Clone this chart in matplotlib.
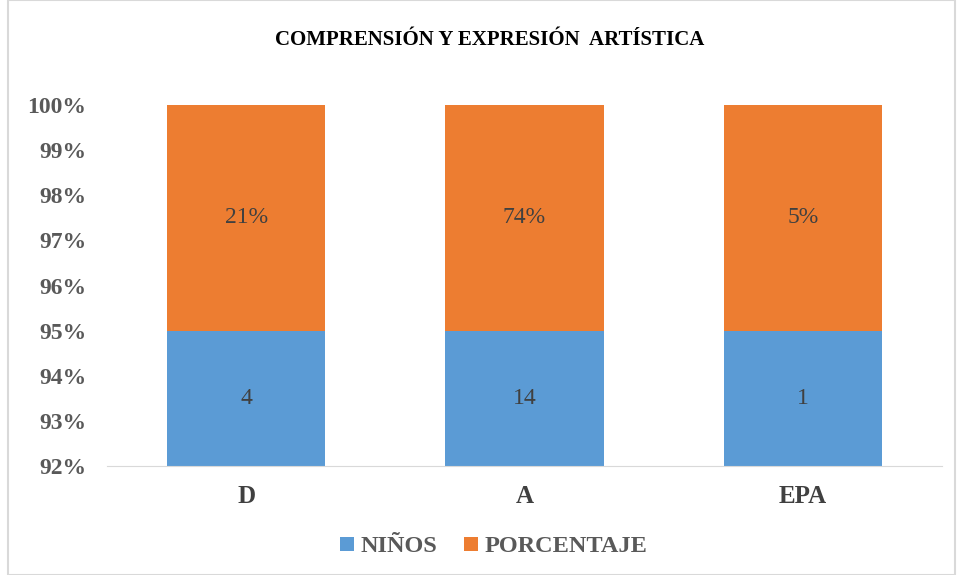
import numpy as np
import matplotlib.pyplot as plt
from matplotlib.patches import Rectangle

categorias = ['D', 'A', 'EPA']
series = ['NIÑOS', 'PORCENTAJE']
# etiquetas de datos
ninos = [4, 14, 1]
porcentaje = ['21%', '74%', '5%']
# alturas de los tramos (100% apilado)
altura_ninos = [95, 95, 95]
altura_porcentaje = [5, 5, 5]
colores = ['#5B9BD5', '#ED7D31']

plt.rcParams['font.family'] = ['Liberation Serif', 'DejaVu Serif']

fig = plt.figure(figsize=(9.61, 5.75), dpi=100)
ax = fig.add_axes([107/961, 1-466/575, (942-107)/961, (466-105)/575])

x = np.arange(len(categorias))
fn = np.array(altura_ninos, dtype=float)
fp = np.array(altura_porcentaje, dtype=float)
ax.bar(x, fn, width=0.57, color=colores[0], label=series[0])
ax.bar(x, fp, bottom=fn, width=0.57, color=colores[1], label=series[1])

ymin, ymax = 92, 100
ax.set_ylim(ymin, ymax)
ax.set_xlim(-0.5, 2.5)

for i in range(len(x)):
    ax.text(x[i], (ymin + fn[i]) / 2, str(ninos[i]), ha='center', va='center',
            fontsize=17, color='#404040')
    ax.text(x[i], fn[i] + fp[i] / 2, porcentaje[i], ha='center', va='center',
            fontsize=17, color='#404040')

ax.set_yticks(np.arange(92, 101, 1))
ax.set_yticklabels(['%d%%' % v for v in range(92, 101)])
ax.set_xticks(x)
ax.set_xticklabels(categorias)
ax.tick_params(axis='y', length=0, pad=15, labelsize=17, labelcolor='#595959')
ax.tick_params(axis='x', length=0, pad=14, labelsize=18, labelcolor='#404040')
for lbl in ax.get_yticklabels() + ax.get_xticklabels():
    lbl.set_fontweight('bold')

for s in ['top', 'right', 'left']:
    ax.spines[s].set_visible(False)
ax.spines['bottom'].set_color('#D9D9D9')

fig.text(490/961, 1-40/575, 'COMPRENSIÓN Y EXPRESIÓN  ARTÍSTICA', ha='center', va='center',
         fontsize=15, fontweight='bold', color='black')

leg = fig.legend(loc='center', bbox_to_anchor=(494/961, 1-547/575), ncol=2, frameon=False,
                 handlelength=0.55, handleheight=0.55, handletextpad=0.3, columnspacing=1.1,
                 prop={'size': 17.5, 'weight': 'bold'})
for t in leg.get_texts():
    t.set_color('#595959')

fig.patches.append(Rectangle((8/961, 0), 947/961, 1, transform=fig.transFigure,
                             fill=False, edgecolor='#D9D9D9', linewidth=1.5))

fig.savefig('out.png', dpi=100)
